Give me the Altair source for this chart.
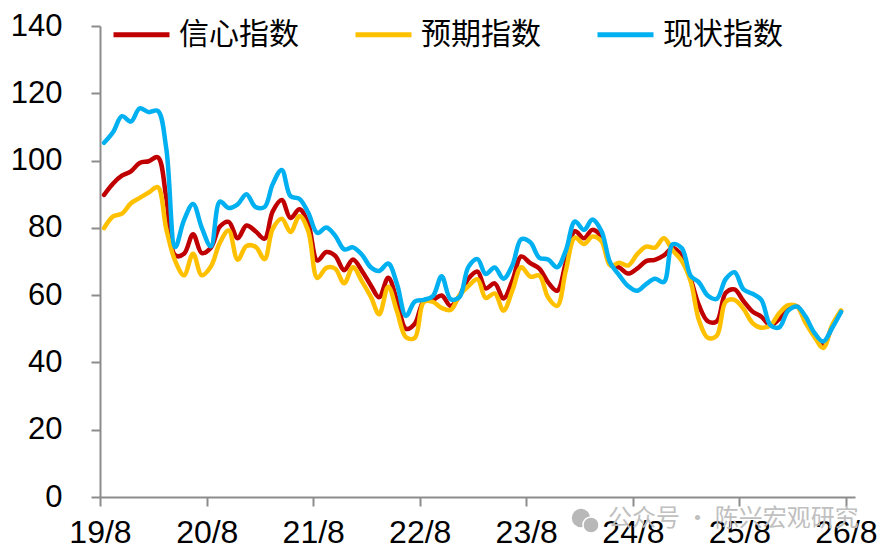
import altair as alt
import pandas as pd

# 月度数据: 2019/8 - 2026/7
confidence = [
    89.8, 93.2, 95.5, 96.8, 99.3,
    99.8, 101.0, 89.1, 71.8, 72.3, 78.1, 72.5, 74.1, 80.4, 81.8, 76.9, 80.7,
    79.0, 76.8, 84.9, 88.3, 82.9, 85.5, 81.2, 70.3, 72.8, 71.7, 67.4, 70.6,
    67.2, 62.8, 59.4, 65.2, 58.4, 50.0, 51.5, 58.2, 58.6, 59.9, 56.8, 59.7,
    64.9, 67.0, 62.0, 63.5, 59.0, 64.4, 71.5, 69.5, 67.9, 63.8, 61.3, 69.7,
    79.0, 76.9, 79.4, 77.2, 69.1, 68.2, 66.4, 67.9, 70.1, 70.5, 71.8, 74.0,
    71.7, 64.7, 57.0, 52.2, 52.2, 60.7, 61.7, 58.2, 55.1, 53.6, 51.0, 52.9,
    56.4, 56.6, 52.2, 48.2, 45.2, 50.7, 55.2,
]
expectation = [
    79.9, 83.4, 84.2, 87.3, 88.9,
    90.5, 92.1, 79.7, 70.1, 65.9, 72.3, 65.9, 68.5, 75.6, 79.2, 70.5, 74.6,
    74.4, 70.7, 79.7, 82.7, 78.8, 83.5, 79.0, 65.1, 68.1, 67.9, 63.5, 68.3,
    64.1, 59.4, 54.3, 62.5, 55.2, 47.5, 47.3, 58.0, 58.0, 56.2, 55.6, 59.9,
    62.7, 64.7, 59.2, 60.5, 55.4, 61.5, 68.3, 65.5, 65.8, 59.3, 56.8, 67.4,
    77.1, 75.2, 77.4, 76.0, 68.8, 69.6, 68.8, 72.1, 74.4, 74.1, 76.9, 73.3,
    70.2, 64.0, 52.6, 47.3, 47.9, 58.1, 58.6, 55.9, 51.7, 50.3, 51.0, 54.6,
    57.0, 56.6, 51.8, 47.6, 44.3, 51.2, 55.5,
]
current = [
    105.3, 108.5, 113.2, 111.6, 115.5,
    114.4, 114.8, 103.7, 74.3, 82.3, 87.1, 80.0, 74.5, 87.8, 85.9, 87.0, 90.0,
    86.2, 86.2, 93.0, 97.2, 89.4, 88.6, 84.5, 78.5, 80.1, 77.7, 73.6, 74.2,
    72.0, 68.2, 67.2, 69.4, 63.3, 53.8, 58.1, 58.6, 59.7, 65.6, 58.8, 59.4,
    68.4, 70.7, 66.3, 68.2, 64.9, 69.0, 76.6, 75.7, 71.1, 70.6, 68.3, 73.3,
    81.9, 79.4, 82.5, 79.0, 69.6, 65.9, 62.7, 61.3, 63.3, 64.9, 63.9, 75.1,
    74.0, 65.7, 63.8, 59.8, 58.9, 64.8, 66.8, 61.7, 60.4, 58.6, 51.1, 50.4,
    55.4, 56.6, 53.7, 48.8, 46.2, 50.3, 55.0,
]

series_names = ["信心指数", "预期指数", "现状指数"]
series_colors = ["#C00000", "#FFC000", "#00B0F0"]
tick_years = [2019, 2020, 2021, 2022, 2023, 2024, 2025, 2026]
y_ticks = [0, 20, 40, 60, 80, 100, 120, 140]
watermark = "公众号 · 陈兴宏观研究"

dates = (pd.date_range("2019-08-01", periods=len(confidence), freq="MS")
         + pd.Timedelta(days=14)).strftime("%Y/%m/%d")

frames = []
for name, vals in zip(series_names, [confidence, expectation, current]):
    frames.append(pd.DataFrame({"date": dates, "value": vals, "series": name}))
df = pd.concat(frames, ignore_index=True)

axis_gray = "#8c8c8c"

lines = alt.Chart(df).mark_line(
    interpolate="catmull-rom", strokeWidth=4.5, strokeCap="round", strokeJoin="round"
).encode(
    x=alt.X("date:T",
            scale=alt.Scale(domain=[alt.DateTime(year=2019, month=8, date=1),
                                    alt.DateTime(year=2026, month=9, date=1)]),
            axis=alt.Axis(title=None, format="%y/%-m",
                          values=[alt.DateTime(year=y, month=8, date=1) for y in tick_years],
                          labelFontSize=32, labelPadding=11, labelFlush=False,
                          labelOverlap=False, labelBound=False)),
    y=alt.Y("value:Q",
            scale=alt.Scale(domain=[0, 140], nice=False),
            axis=alt.Axis(title=None, values=y_ticks, labelFontSize=31, labelPadding=29)),
    color=alt.Color("series:N",
                    scale=alt.Scale(domain=series_names, range=series_colors),
                    legend=alt.Legend(title=None, orient="none", legendX=11, legendY=-22,
                                      direction="horizontal", symbolType="stroke",
                                      symbolSize=3136, symbolStrokeWidth=5,
                                      labelFont="Noto Sans CJK SC", labelFontSize=30,
                                      labelColor="#000000", labelOffset=7,
                                      columnPadding=46, padding=0, labelLimit=300)),
)

# 水印
one = pd.DataFrame({"t": [watermark]})
wm_big = alt.Chart(one).mark_circle(color="#b8b8b8", opacity=1).encode(
    x=alt.value(481), y=alt.value(492), size=alt.value(340))
wm_small = alt.Chart(one).mark_circle(color="#b8b8b8", opacity=1, stroke="white",
                                      strokeWidth=1.5).encode(
    x=alt.value(491), y=alt.value(499), size=alt.value(260))
wm_text = alt.Chart(one).mark_text(
    align="left", baseline="middle", fontSize=24, font="Noto Sans CJK SC", color="#c0c0c0"
).encode(x=alt.value(508), y=alt.value(493), text="t:N")

chart = alt.layer(wm_big, wm_small, wm_text, lines).properties(
    width=755, height=471,
    autosize=alt.AutoSizeParams(type="none"),
    padding={"left": 92, "top": 18, "right": 22, "bottom": 56},
).configure_axis(
    domainColor=axis_gray, domainWidth=2, tickColor=axis_gray, tickWidth=2, tickSize=9,
    grid=False, labelFont="Liberation Sans", labelColor="#000000", zindex=1,
).configure_view(stroke=None)

chart.save("out.html", embed_options={"renderer": "svg", "actions": False})
